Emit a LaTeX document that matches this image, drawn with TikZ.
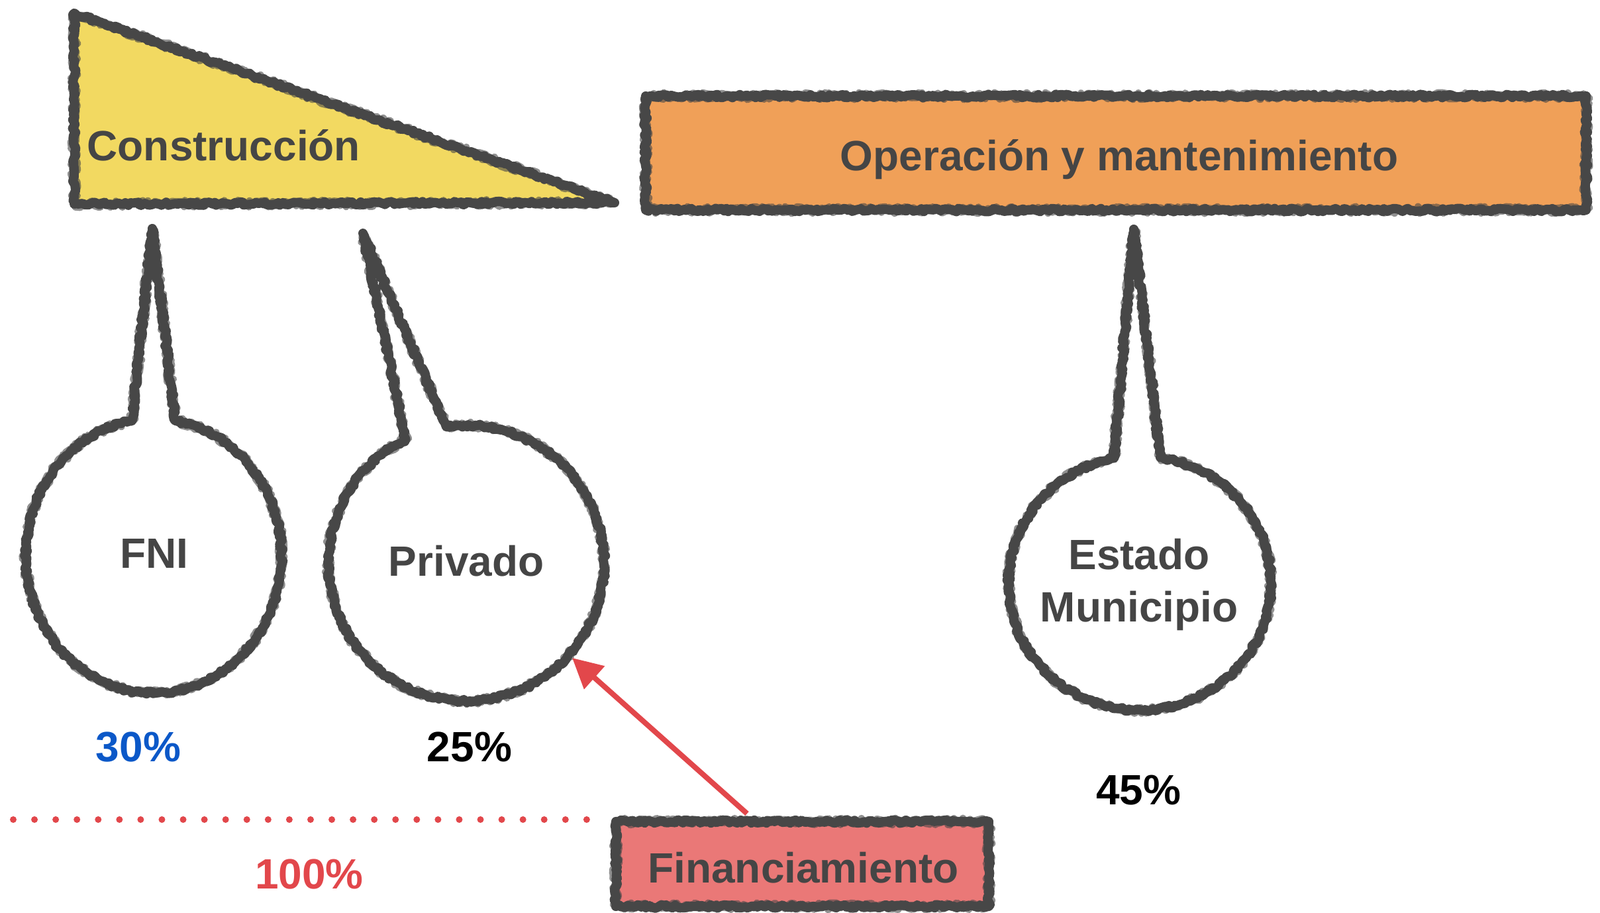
\documentclass[tikz,border=0pt]{standalone}
\usepackage{fontspec}
\setmainfont{Liberation Sans}
\usetikzlibrary{decorations.pathmorphing,arrows.meta}
\definecolor{yel}{HTML}{F2D961}
\definecolor{org}{HTML}{F0A058}
\definecolor{finred}{HTML}{EA7877}
\definecolor{sk}{HTML}{474747}
\definecolor{txt}{HTML}{454545}
\definecolor{blu}{HTML}{0B58C8}
\definecolor{redt}{HTML}{E2474B}
\tikzset{
  sketch/.style={draw=sk, line width=4.0pt, line join=round, decorate,
    decoration={random steps, segment length=1.0pt, amplitude=0.7pt}},
  sketchb/.style={draw=sk, line width=3.0pt, line join=round, opacity=0.6, decorate,
    decoration={random steps, segment length=0.8pt, amplitude=1.5pt}},
  rough/.style={postaction={sketch}, postaction={sketchb}},
  lbl/.style={font=\fontsize{18.2}{22}\selectfont\bfseries, text=txt, inner sep=0pt, anchor=base},
  pct/.style={font=\fontsize{18.2}{22}\selectfont\bfseries, inner sep=0pt, anchor=base},
}
\begin{document}
\begin{tikzpicture}
\useasboundingbox (0,0) rectangle (24.16,13.78);
% Construccion triangle
\path[fill=yel, rough] (1.12,13.58) -- (1.12,10.70) -- (9.28,10.72) -- cycle;
\node[lbl, anchor=base west] (con) at (1.31,11.35) {Construcción};
% Operacion y mantenimiento
\path[fill=org, rough] (9.75,12.33) rectangle (23.95,10.61);
\node[lbl] (opm) at (16.90,11.20) {Operación y mantenimiento};
% FNI callout
\path[fill=white, rough] (2.32,5.39) ++(80.2:1.93 and 2.07)
  arc[start angle=80.2, end angle=-260.2, x radius=1.93, y radius=2.07]
  -- (2.30,10.33) -- cycle;
\node[lbl] (fni) at (2.33,5.20) {FNI};
% Privado callout
\path[fill=white, rough] (7.04,5.28) ++(98.3:2.08)
  arc[start angle=98.3, end angle=-243.9, radius=2.08]
  -- (5.48,10.26) -- cycle;
\node[lbl] (priv) at (7.04,5.08) {Privado};
% Estado Municipio callout
\path[fill=white, rough] (17.21,4.98) ++(81:1.98 and 1.92)
  arc[start angle=81, end angle=-258.6, x radius=1.98, y radius=1.92]
  -- (17.12,10.32) -- cycle;
\node[lbl] (est) at (17.20,5.18) {Estado};
\node[lbl] (mun) at (17.20,4.39) {Municipio};
% percentages
\node[pct, text=blu] (p30) at (2.09,2.28) {30\%};
\node[pct, text=black] (p25) at (7.09,2.28) {25\%};
\node[pct, text=black] (p45) at (17.19,1.63) {45\%};
\node[pct, text=redt] (p100) at (4.67,0.36) {100\%};
% dotted line
\coordinate (dl) at (0.20,1.41);
\coordinate (dr) at (8.86,1.41);
\draw[redt, line width=0.1cm, line cap=round, dash pattern=on 0pt off 0.3207cm] (dl) -- (dr);
% Financiamiento box
\path[fill=finred, rough] (9.30,1.38) rectangle (14.93,0.10);
\node[lbl] (fin) at (12.13,0.45) {Financiamiento};
% arrow
\coordinate (arrS) at (11.28,1.50);
\coordinate (arrE) at (8.64,3.85);
\draw[redt, line width=0.08cm, -{Triangle[length=0.45cm,width=0.45cm]}] (arrS) -- (arrE);
\end{tikzpicture}
\end{document}
